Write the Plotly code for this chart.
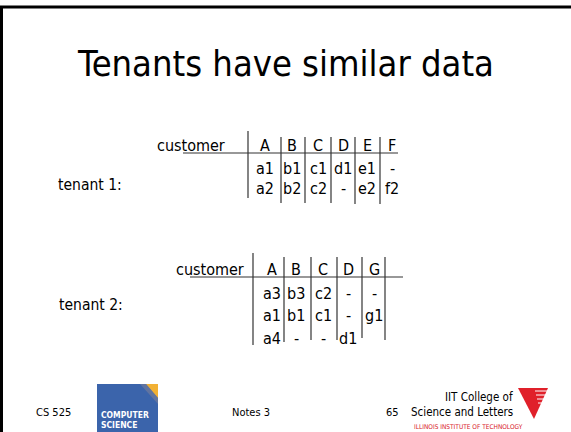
import plotly.graph_objects as go

# ---- slide content (data) ----
title_text = "Tenants have similar data"
key_label = "customer"

tenant_labels = ["tenant 1:", "tenant 2:"]

header_1 = ["A", "B", "C", "D", "E", "F"]
rows_1 = [
    ["a1", "b1", "c1", "d1", "e1", "-"],
    ["a2", "b2", "c2", "-", "e2", "f2"],
]

header_2 = ["A", "B", "C", "D", "G"]
rows_2 = [
    ["a3", "b3", "c2", "-", "-"],
    ["a1", "b1", "c1", "-", "g1"],
    ["a4", "-", "-", "d1", ""],
]

footer_course = "CS 525"
footer_notes = "Notes 3"
footer_page = "65"
college_lines = ["IIT College of", "Science and Letters"]
institute = "ILLINOIS INSTITUTE OF TECHNOLOGY"
logo_lines = ["COMPUTER", "SCIENCE"]

# ---- layout (positions in pixel space) ----
W, H = 571, 432
FONT = "DejaVu Sans Condensed, DejaVu Sans, sans-serif"

tables = [
    dict(header=header_1, rows=rows_1,
         key_x=191, header_y=145, row_y=[168, 188],
         col_x=[265, 292, 318, 343, 367, 392],
         sep_x=[248, 281, 305, 331, 355, 380],
         sep_top=[131, 137, 137, 137, 137, 137],
         sep_bot=[198, 203, 203, 203, 204, 204],
         line=(183, 398, 153),
         label_y=185, label_x=90),
    dict(header=header_2, rows=rows_2,
         key_x=210, header_y=269, row_y=[293, 315, 338],
         col_x=[272, 296, 323, 348, 374],
         sep_x=[253, 284, 311, 337, 362, 385],
         sep_top=[253, 257, 257, 257, 257, 257],
         sep_bot=[345, 342, 340, 340, 338, 340],
         line=(190, 403, 277),
         label_y=305, label_x=91),
]

annotations = []
shapes = []


def txt(x, y, s, size, color="black", xanchor="center", yanchor="middle", family=FONT):
    annotations.append(dict(x=x, y=y, xref="x", yref="y", text=s, showarrow=False,
                            xanchor=xanchor, yanchor=yanchor,
                            font=dict(family=family, size=size, color=color)))


def line(x0, y0, x1, y1, w=1.2, color="#333"):
    shapes.append(dict(type="line", x0=x0, y0=y0, x1=x1, y1=y1, xref="x", yref="y",
                       line=dict(color=color, width=w)))


# slide frame
line(0, 7, W, 7, w=3, color="black")
line(1.5, 7, 1.5, H, w=3, color="black")

# title
txt(W / 2, 63, title_text, 36)

for i, t in enumerate(tables):
    txt(t["key_x"], t["header_y"], key_label, 16)
    for x, h in zip(t["col_x"], t["header"]):
        txt(x, t["header_y"], h, 16)
    for ry, row in zip(t["row_y"], t["rows"]):
        for x, v in zip(t["col_x"], row):
            if v:
                txt(x, ry, v, 16)
    for x, y0, y1 in zip(t["sep_x"], t["sep_top"], t["sep_bot"]):
        line(x, y0, x, y1)
    x0, x1, y = t["line"]
    line(x0, y, x1, y)
    txt(t["label_x"], t["label_y"], tenant_labels[i], 15.5)

# footer texts
txt(53, 412, footer_course, 11)
txt(251, 412, footer_notes, 11)
txt(392, 412, footer_page, 11)
txt(515, 397, college_lines[0], 11.5, xanchor="right")
txt(515, 412, college_lines[1], 11.5, xanchor="right")
txt(468, 427, institute, 6.5, color="#d8202a")

# computer science logo
shapes.append(dict(type="rect", x0=97, y0=384, x1=158, y1=H, xref="x", yref="y",
                   fillcolor="#3b64ab", line=dict(width=0), layer="below"))
shapes.append(dict(type="path", path="M 146 384 L 158 384 L 158 398 Z",
                   xref="x", yref="y", fillcolor="#f2b134", line=dict(width=0)))
shapes.append(dict(type="path", path="M 140 384 L 146 384 L 158 398 L 158 404 Z",
                   xref="x", yref="y", fillcolor="#7b7e9a", line=dict(width=0), opacity=0.6))
LOGO_FONT = "Liberation Sans Narrow, DejaVu Sans Condensed, sans-serif"
txt(99, 415, "<b>" + logo_lines[0] + "</b>", 8.5, color="white", xanchor="left", family=LOGO_FONT)
txt(99, 424.5, "<b>" + logo_lines[1] + "</b>", 8.5, color="white", xanchor="left", family=LOGO_FONT)

# IIT red triangle
shapes.append(dict(type="path", path="M 518 388 L 548 388 L 534 419 Z",
                   xref="x", yref="y", fillcolor="#e0202a", line=dict(width=0)))
for k in range(4):
    y = 391 + k * 4
    line(535 + k, y, 547 - k * 1.2, y, w=1, color="white")

fig = go.Figure()
fig.update_layout(
    width=W, height=H,
    margin=dict(l=0, r=0, t=0, b=0),
    paper_bgcolor="white", plot_bgcolor="white",
    xaxis=dict(range=[0, W], visible=False, fixedrange=True),
    yaxis=dict(range=[H, 0], visible=False, fixedrange=True),
    showlegend=False,
    annotations=annotations,
    shapes=shapes,
)
fig.write_html("out.html", config={"displayModeBar": False},
               post_script="document.body.style.margin='0';document.body.style.overflow='hidden';")
